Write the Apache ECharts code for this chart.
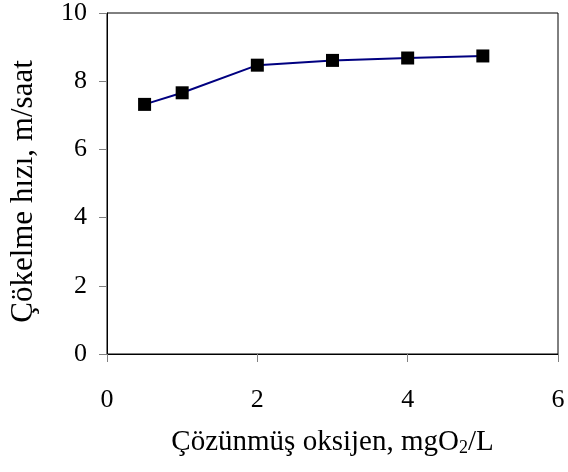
<!DOCTYPE html>
<html><head><meta charset="utf-8">
<script src="https://cdn.jsdelivr.net/npm/echarts@6/dist/echarts.min.js"></script>
<style>html,body{margin:0;padding:0;background:#fff}#c{width:568px;height:472px}</style>
</head><body><div id="c"></div>
<script>
const oxygen = [0.5, 1, 2, 3, 4, 5];
const speed = [7.32, 7.66, 8.47, 8.61, 8.68, 8.74];
const xTitle = 'Çözünmüş oksijen, mgO{sub|2}/L';
const yTitle = 'Çökelme hızı, m/saat';
const FONT = '"Liberation Serif", "Times New Roman", serif';
const chart = echarts.init(document.getElementById('c'), null, {renderer: 'canvas'});
const axisCommon = {
  axisLine: {show: true, onZero: false, lineStyle: {color: '#000', width: 1}},
  axisTick: {show: true, inside: false, length: 8, lineStyle: {color: '#808080', width: 1}},
  splitLine: {show: false},
  axisLabel: {fontFamily: FONT, fontSize: 26, color: '#000'},
  nameTextStyle: {fontFamily: FONT, fontSize: 29, color: '#000'}
};
chart.setOption({
  animation: false,
  backgroundColor: '#fff',
  grid: {left: 106, right: 10, top: 13, bottom: 118, show: true, borderColor: '#000', borderWidth: 1},
  xAxis: Object.assign({}, axisCommon, {
    type: 'value', min: 0, max: 6, interval: 2,
    name: xTitle, nameLocation: 'middle', nameGap: 73,
    axisLabel: Object.assign({}, axisCommon.axisLabel, {margin: 33}),
    nameTextStyle: Object.assign({}, axisCommon.nameTextStyle, {
      rich: {sub: {fontFamily: FONT, fontSize: 18, color: '#000', verticalAlign: 'bottom', padding: [12, 0, 0, 0]}}
    })
  }),
  yAxis: Object.assign({}, axisCommon, {
    type: 'value', min: 0, max: 10, interval: 2,
    name: yTitle, nameLocation: 'middle', nameGap: 68,
    nameTextStyle: Object.assign({}, axisCommon.nameTextStyle, {fontSize: 31, padding: [0, 16, 0, 0]}),
    axisLabel: Object.assign({}, axisCommon.axisLabel, {margin: 20})
  }),
  series: [{
    type: 'line',
    data: oxygen.map((x, i) => [x, speed[i]]),
    symbol: 'rect', symbolSize: 13,
    itemStyle: {color: '#000'},
    lineStyle: {color: '#000080', width: 2}
  }]
});
</script></body></html>
